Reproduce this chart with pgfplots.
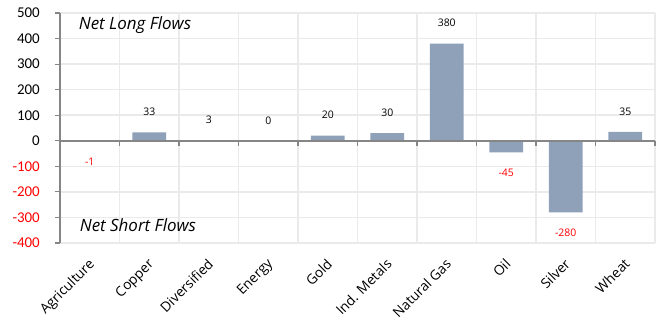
\documentclass[border=0pt]{standalone}
\usepackage{pgfplots}
\pgfplotsset{compat=1.18}
\usepackage{fontspec}
\setmainfont{Open Sans}
\newfontfamily\carlito{Carlito}
\definecolor{barc}{RGB}{143,160,185}
\definecolor{axc}{RGB}{134,134,134}
\definecolor{gridc}{RGB}{234,234,234}
\begin{document}
\begin{tikzpicture}
\path[use as bounding box] (-60bp,-80bp) rectangle (606bp,243bp);
\begin{axis}[
  scale only axis, width=595bp, height=230bp,
  xmin=-0.5, xmax=9.5, ymin=-400, ymax=500,
  axis lines*=left,
  x axis line style={opacity=0},
  y axis line style={color=axc, line width=1.5bp},
  ytick={-400,-300,...,500},
  yticklabels={{\color{red}-400},{\color{red}-300},{\color{red}-200},{\color{red}-100},0,100,200,300,400,500},
  yticklabel style={font=\carlito\fontsize{15}{15}\selectfont, inner sep=1bp, xshift=-14bp},
  ytick style={color=axc, line width=1.2bp},
  tick align=outside, major tick length=5bp,
  xtick={0,...,9},
  xticklabels={Agriculture,Copper,Diversified,Energy,Gold,Ind. Metals,Natural Gas,Oil,Silver,Wheat},
  xticklabel style={font=\fontsize{13.8}{13.8}\selectfont, xshift=-2bp, yshift=-8bp, rotate=45, anchor=north east, inner sep=1bp},
  xtick style={draw=none},
  minor xtick={-0.5,0.5,...,9.5},
  minor x tick style={draw=none},
  xminorgrids, ymajorgrids,
  grid style={color=gridc, line width=1.5bp},
  minor grid style={color=gridc, line width=1.5bp},
  ybar, bar width=0.57, bar shift=0pt,
  nodes near coords,
  /pgf/number format/assume math mode=true,
  every node near coord/.append style={font=\fontsize{10.5}{10.5}\selectfont, anchor=center},
  clip=false,
]
\addplot[fill=barc, draw=none, nodes near coords style={yshift=20.5bp, color=black}]
  coordinates {(1,33) (2,3) (3,0) (4,20) (5,30) (6,380) (9,35)};
\addplot[fill=barc, draw=none, nodes near coords style={yshift=-20.5bp, color=red}]
  coordinates {(0,-1) (7,-45) (8,-280)};
\draw[color=axc, line width=1.5bp] (axis cs:-0.5,0) -- (axis cs:9.5,0);
\pgfplotsinvokeforeach{-0.5,0.5,1.5,2.5,3.5,4.5,5.5,6.5,7.5,8.5,9.5}{
  \draw[color=axc, line width=1.2bp] (axis cs:#1,0) -- ([yshift=-5bp]axis cs:#1,0);
}
\node[font=\itshape\fontsize{17}{17}\selectfont] at (axis cs:0.76,453) {Net Long Flows};
\node[font=\itshape\fontsize{17}{17}\selectfont] at (axis cs:0.81,-332) {Net Short Flows};
\end{axis}
\end{tikzpicture}
\end{document}
